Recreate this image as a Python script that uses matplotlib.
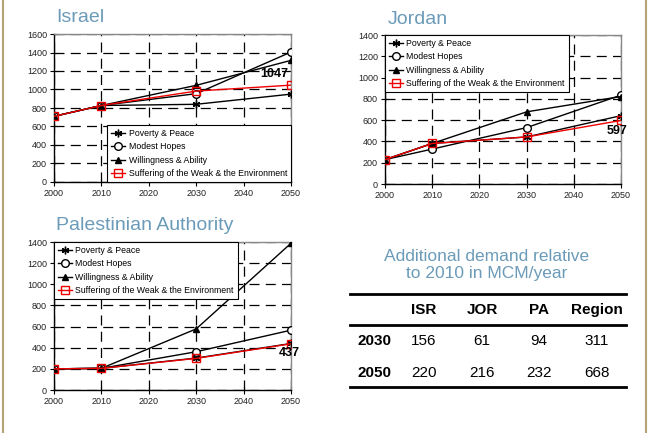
import matplotlib.pyplot as plt
from matplotlib.lines import Line2D

plt.rcParams['font.family'] = ['Liberation Sans', 'DejaVu Sans']

years = [2000, 2010, 2030, 2050]
series_names = ["Poverty & Peace", "Modest Hopes", "Willingness & Ability",
                "Suffering of the Weak & the Environment"]

israel = {
    "Poverty & Peace": [710, 827, 840, 950],
    "Modest Hopes": [710, 827, 955, 1405],
    "Willingness & Ability": [710, 827, 1045, 1315],
    "Suffering of the Weak & the Environment": [710, 827, 983, 1047],
}
jordan = {
    "Poverty & Peace": [229, 381, 442, 642],
    "Modest Hopes": [229, 328, 530, 835],
    "Willingness & Ability": [229, 381, 678, 822],
    "Suffering of the Weak & the Environment": [229, 381, 442, 597],
}
palestine = {
    "Poverty & Peace": [200, 205, 302, 440],
    "Modest Hopes": [200, 205, 362, 566],
    "Willingness & Ability": [200, 205, 578, 1388],
    "Suffering of the Weak & the Environment": [200, 205, 299, 437],
}

table_title = "Additional demand relative\nto 2010 in MCM/year"
table_cols = ["ISR", "JOR", "PA", "Region"]
table_rows = ["2030", "2050"]
table_vals = [[156, 61, 94, 311], [220, 216, 232, 668]]

W, H = 651, 433
title_col = '#6b9bb8'

styles = {
    "Poverty & Peace": dict(color='black', marker=(6, 2, 0), ms=5.5, mfc='black'),
    "Modest Hopes": dict(color='black', marker='o', ms=5.5, mfc='white'),
    "Willingness & Ability": dict(color='black', marker='^', ms=4, mfc='black'),
    "Suffering of the Weak & the Environment": dict(color='#ee0000', marker='s', ms=5.5, mfc='none', mec='#ee0000'),
}

fig = plt.figure(figsize=(W / 100, H / 100), dpi=100)


def px_axes(l, r, t, b):
    return fig.add_axes([l / W, (H - b) / H, (r - l) / W, (b - t) / H])


def panel(ax, data, ymax, title, tx, ty, legloc, legbbox, label, lab_off, lab_ha, lab_va):
    for name in series_names:
        ax.plot(years, data[name], lw=1, label=name, zorder=3, **styles[name])
    ax.set_xlim(2000, 2050)
    ax.set_ylim(0, ymax)
    ax.set_xticks(range(2000, 2051, 10))
    ax.set_yticks(range(0, ymax + 1, 200))
    ax.grid(True, color='black', lw=0.9, linestyle=(0, (8, 5)))
    ax.tick_params(direction='inout', length=6, labelsize=6.5, width=0.8, pad=2,
                   labelcolor='#222222')
    for s in ['left', 'bottom']:
        ax.spines[s].set_color('black')
        ax.spines[s].set_linewidth(1)
    for s in ['top', 'right']:
        ax.spines[s].set_color('#888888')
        ax.spines[s].set_linewidth(1)
    leg = ax.legend(loc=legloc, bbox_to_anchor=legbbox, fontsize=6.3, fancybox=False,
                    framealpha=1, edgecolor='black', handlelength=1.6, handletextpad=0.4,
                    borderpad=0.45, labelspacing=0.5, borderaxespad=0)
    leg.get_frame().set_linewidth(0.8)
    ax.annotate(str(label), (2050, data[series_names[3]][-1]), xytext=lab_off,
                textcoords='offset points', ha=lab_ha, va=lab_va,
                fontsize=9, fontweight='bold', zorder=5)
    fig.text(tx / W, 1 - ty / H, title, color=title_col, fontsize=14, ha='left', va='center')


ax1 = px_axes(54, 291, 34, 182)
panel(ax1, israel, 1600, "Israel", 56, 18, 'lower right', (1, 0), 1047, (-2, 4), 'right', 'bottom')

ax2 = px_axes(385, 621, 35, 184)
panel(ax2, jordan, 1400, "Jordan", 388, 20, 'upper left', (0, 1), 597, (-3, -3), 'center', 'top')

ax3 = px_axes(54, 291, 242, 390)
panel(ax3, palestine, 1400, "Palestinian Authority", 56, 226, 'upper left', (0, 1), 437, (-1, -2), 'center', 'top')

# table
fig.text(487 / W, 1 - 265 / H, table_title, color=title_col, fontsize=12.5,
         ha='center', va='center', linespacing=1.15)
for y in [294, 325, 387]:
    fig.add_artist(Line2D([350 / W, 626 / W], [1 - y / H, 1 - y / H], color='black', lw=2))
col_x = [424, 482, 539, 597]
for cx, c in zip(col_x, table_cols):
    fig.text(cx / W, 1 - 310 / H, c, fontsize=11, fontweight='bold', ha='center', va='center')
for ry, r, vals in zip([341, 373], table_rows, table_vals):
    fig.text(374 / W, 1 - ry / H, r, fontsize=11, fontweight='bold', ha='center', va='center')
    for cx, v in zip(col_x, vals):
        fig.text(cx / W, 1 - ry / H, str(v), fontsize=11, ha='center', va='center')

# page border lines
for x in [3, 646]:
    fig.add_artist(Line2D([x / W, x / W], [0, 1], color='#b5a275', lw=1.5))

fig.savefig('out.png', dpi=100)
